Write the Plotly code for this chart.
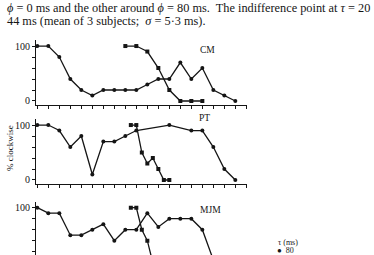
import plotly.graph_objects as go

W, H = 374, 255

# ---- data (phi in ms, % clockwise) ----
cm_a_x = [0, 10, 20, 30, 40, 50, 60, 70, 80, 90, 100, 110, 120, 130, 140, 150, 160, 170, 180]
cm_a_y = [100, 100, 80, 40, 20, 10, 20, 20, 20, 20, 30, 40, 40, 70, 40, 60, 20, 10, 0]
cm_b_x = [80, 90, 100, 110, 120, 130, 140, 150]
cm_b_y = [100, 100, 90, 60, 20, 0, 0, 0]

pt_a_x = [0, 10, 20, 30, 40, 50, 60, 70, 80, 90, 120, 140, 150, 160, 170, 180]
pt_a_y = [100, 100, 90, 60, 80, 10, 70, 70, 80, 90, 100, 90, 90, 60, 20, 0]
pt_b_x = [85, 90, 95, 100, 105, 110, 115, 120]
pt_b_y = [100, 100, 50, 30, 40, 20, 0, 0]

mjm_a_x = [0, 10, 20, 30, 40, 50, 60, 70, 80, 90, 100, 110, 120, 130, 140, 150, 160]
mjm_a_y = [100, 90, 90, 50, 50, 60, 70, 40, 60, 60, 90, 65, 80, 80, 80, 60, 5]
mjm_b_x = [85, 90, 95, 100, 105, 110]
mjm_b_y = [100, 100, 60, 40, 0, 0]

panel_names = ["CM", "PT", "MJM"]
y_tickvals = [0, 20, 40, 60, 80, 100]
y_ticktext = ["0", "", "", "", "", "100"]
legend_title = "τ (ms)"
legend_label = "80"
y_title = "% clockwise"
text_lines = [
    "<i>ϕ</i> = 0 ms and the other around <i>ϕ</i> = 80 ms.  The indifference point at <i>τ</i> = 20",
    "44 ms (mean of 3 subjects;  <i>σ</i> = 5·3 ms).",
]

INK = "#151515"
SERIF = "Liberation Serif, Times New Roman, serif"

def fx(px):
    return px / W

def fy(py):
    return 1 - py / H

fig = go.Figure()

panels = [
    (cm_a_x, cm_a_y, cm_b_x, cm_b_y),
    (pt_a_x, pt_a_y, pt_b_x, pt_b_y),
    (mjm_a_x, mjm_a_y, mjm_b_x, mjm_b_y),
]
for i, (ax, ay, bx, by) in enumerate(panels):
    sfx = "" if i == 0 else str(i + 1)
    fig.add_trace(go.Scatter(x=ax, y=ay, mode="lines+markers",
                             line=dict(color=INK, width=1.3),
                             marker=dict(symbol="circle", size=4, color=INK),
                             xaxis="x" + sfx, yaxis="y" + sfx, showlegend=False))
    fig.add_trace(go.Scatter(x=bx, y=by, mode="lines+markers",
                             line=dict(color=INK, width=1.3),
                             marker=dict(symbol="square", size=4, color=INK),
                             xaxis="x" + sfx, yaxis="y" + sfx, showlegend=False))

# pixel layout of the three panels
x_dom = [fx(36), fx(247)]
x_rng = [-1.2, 190.6]
y_specs = [
    ([fy(105), fy(40.0)], [-7.3, 111]),
    ([fy(184), fy(119.0)], [-7.3, 111]),
    ([0.0, fy(201.6)], [14, 111]),
]

layout = dict(
    width=W, height=H,
    margin=dict(l=0, r=0, t=0, b=0, autoexpand=False),
    paper_bgcolor="white", plot_bgcolor="white",
    font=dict(family=SERIF, color=INK, size=9),
)
for i, (dom, rng) in enumerate(y_specs):
    sfx = "" if i == 0 else str(i + 1)
    last = i == 2
    layout["xaxis" + sfx] = dict(
        domain=x_dom, range=x_rng, anchor="y" + sfx,
        showline=not last, linecolor=INK, linewidth=1.2,
        ticks="" if last else "outside", tickmode="linear", tick0=0, dtick=10,
        ticklen=3, tickwidth=1, tickcolor=INK,
        showticklabels=False, showgrid=False, zeroline=False,
    )
    layout["yaxis" + sfx] = dict(
        domain=dom, range=rng, anchor="x" + sfx,
        showline=True, linecolor=INK, linewidth=1.2,
        ticks="outside", ticklen=3, tickwidth=1, tickcolor=INK,
        tickvals=y_tickvals, ticktext=y_ticktext,
        tickfont=dict(family=SERIF, size=10, color=INK),
        showgrid=False, zeroline=False,
    )
fig.update_layout(**layout)

ann = []
label_pos = [(198, 50), (197, 118), (198, 210)]
for name, (px, py) in zip(panel_names, label_pos):
    ann.append(dict(text=name, x=fx(px), y=fy(py), xref="paper", yref="paper",
                    xanchor="left", yanchor="middle", showarrow=False,
                    font=dict(family=SERIF, size=9.5, color=INK)))
ann.append(dict(text=y_title, x=fx(10), y=fy(148), xref="paper", yref="paper",
                textangle=-90, xanchor="center", yanchor="middle", showarrow=False,
                font=dict(family=SERIF, size=9, color=INK)))
for t, py in zip(text_lines, [8.5, 20.5]):
    ann.append(dict(text=t, x=fx(5), y=fy(py), xref="paper", yref="paper",
                    xanchor="left", yanchor="middle", showarrow=False,
                    font=dict(family=SERIF, size=12.3, color=INK)))
ann.append(dict(text=legend_title, x=fx(276), y=fy(242), xref="paper", yref="paper",
                xanchor="left", yanchor="middle", showarrow=False,
                font=dict(family=SERIF, size=8, color=INK)))
ann.append(dict(text="●  " + legend_label, x=fx(275), y=fy(250.5), xref="paper", yref="paper",
                xanchor="left", yanchor="middle", showarrow=False,
                font=dict(family=SERIF, size=8, color=INK)))
fig.update_layout(annotations=ann)

fig.write_html("out.html")
